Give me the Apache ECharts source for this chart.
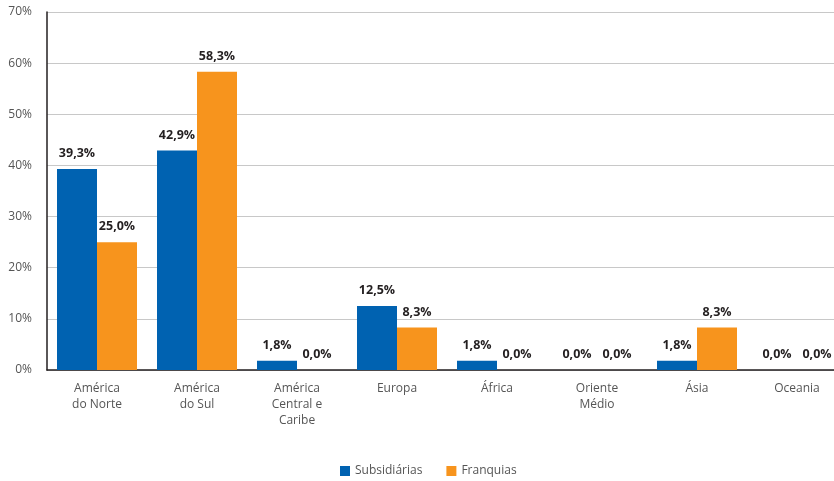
<!DOCTYPE html>
<html>
<head>
<meta charset="utf-8">
<script src="https://cdn.jsdelivr.net/npm/echarts@6/dist/echarts.min.js"></script>
<style>
  html, body { margin: 0; padding: 0; background: #fff; }
  #chart { width: 834px; height: 481px; }
</style>
</head>
<body>
<div id="chart"></div>
<script>
// Regions and shares (%) of subsidiaries and franchises
const regions = ['América\ndo Norte', 'América\ndo Sul', 'América\nCentral e\nCaribe', 'Europa', 'África', 'Oriente\nMédio', 'Ásia', 'Oceania'];
const subsidiarias = [39.3, 42.9, 1.8, 12.5, 1.8, 0.0, 1.8, 0.0];
const franquias = [25.0, 58.3, 0.0, 8.3, 0.0, 0.0, 8.3, 0.0];
const seriesNames = ['Subsidiárias', 'Franquias'];

const fontFamily = '"Open Sans", "Noto Sans", sans-serif';
const pct = v => v.toFixed(1).replace('.', ',') + '%';

const labelStyle = {
  show: true,
  position: 'top',
  distance: 9,
  fontFamily: fontFamily,
  fontWeight: 'bold',
  fontSize: 12.5,
  color: '#231f20',
  formatter: p => pct(p.value)
};

const chart = echarts.init(document.getElementById('chart'));
chart.setOption({
  animation: false,
  textStyle: { fontFamily: fontFamily },
  // the category band runs a little past the right edge of the canvas
  grid: { left: 47, width: 800, top: 12, bottom: 111, containLabel: false, outerBoundsMode: 'none' },
  legend: {
    bottom: 4,
    left: 340,
    padding: 0,
    itemWidth: 10,
    itemHeight: 10,
    itemGap: 24,
    icon: 'rect',
    textStyle: { fontFamily: fontFamily, fontSize: 12, color: '#555' },
    data: seriesNames
  },
  xAxis: {
    type: 'category',
    data: regions,
    axisLine: { lineStyle: { color: '#231f20', width: 1.5 } },
    axisTick: { show: false },
    axisLabel: { color: '#555', fontSize: 12, lineHeight: 16, margin: 11, interval: 0 }
  },
  yAxis: {
    type: 'value',
    min: 0,
    max: 70,
    interval: 10,
    axisLine: { show: true, lineStyle: { color: '#231f20', width: 1.5 } },
    axisTick: { show: false },
    splitLine: { lineStyle: { color: '#c8c8c8', width: 1 } },
    axisLabel: { color: '#555', fontSize: 12, margin: 15, formatter: v => v + '%' }
  },
  series: [
    {
      name: seriesNames[0],
      type: 'bar',
      data: subsidiarias,
      barGap: '0%',
      barCategoryGap: '20%',
      itemStyle: { color: '#0062b1' },
      label: labelStyle
    },
    {
      name: seriesNames[1],
      type: 'bar',
      data: franquias,
      itemStyle: { color: '#f7941d' },
      label: labelStyle
    }
  ]
});
</script>
</body>
</html>
